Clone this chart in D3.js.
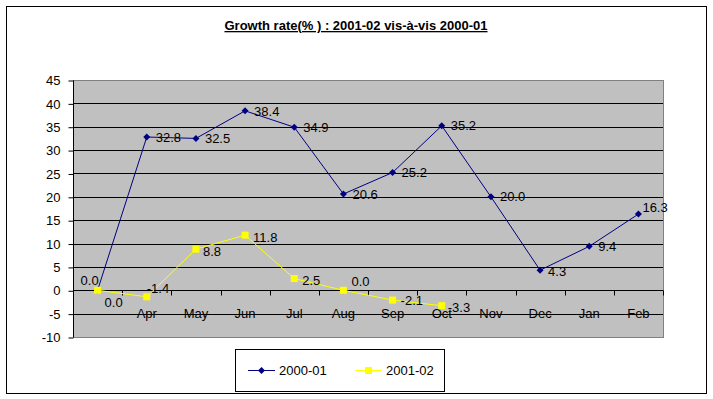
<!DOCTYPE html>
<html>
<head>
<meta charset="utf-8">
<script src="https://cdn.jsdelivr.net/npm/d3@7"></script>
<style>
  body { margin: 0; background: #fff; }
  text { font-family: Arial, "Liberation Sans", sans-serif; }
</style>
</head>
<body>
<svg id="chart" width="713" height="399"></svg>
<script>
// Data
const months = ["", "Apr", "May", "Jun", "Jul", "Aug", "Sep", "Oct", "Nov", "Dec", "Jan", "Feb"];
const growth0001 = [0.0, 32.8, 32.5, 38.4, 34.9, 20.6, 25.2, 35.2, 20.0, 4.3, 9.4, 16.3];
const growth0102 = [0.0, -1.4, 8.8, 11.8, 2.5, 0.0, -2.1, -3.3];
const yTicks = [-10, -5, 0, 5, 10, 15, 20, 25, 30, 35, 40, 45];
const seriesNames = ["2000-01", "2001-02"];

// where each data label sits relative to its point [dx, dy]
const nudge0001 = [[-17, -10], [9, 0], [9, 0], [9, 0], [9, 0], [9, 0], [9, 0], [9, 0], [9, 0], [8, 1], [9, 0], [4, -7]];
const nudge0102 = [[7, 12], [0, -8], [7, 2], [8, 2], [8, 2], [8, -9], [8, 0], [6, 2]];

const svg = d3.select("#chart");
const plot = { left: 73, top: 80, right: 663, bottom: 337 };
const navy = "#000080", yellow = "#FFFF00";

// outer chart border
svg.append("rect")
    .attr("x", 6.5).attr("y", 6.5)
    .attr("width", 700).attr("height", 387)
    .attr("fill", "#fff").attr("stroke", "#000");

// title
svg.append("text")
    .attr("x", 356).attr("y", 30)
    .attr("text-anchor", "middle")
    .style("font-size", "13px")
    .style("font-weight", "bold")
    .style("text-decoration", "underline")
    .text("Growth rate(% ) : 2001-02 vis-à-vis 2000-01");

const x = d3.scalePoint()
    .domain(months)
    .range([plot.left, plot.right])
    .padding(0.5);
const step = x.step();

const y = d3.scaleLinear()
    .domain([-10, 45])
    .range([plot.bottom, plot.top]);

// plot area
svg.append("rect")
    .attr("x", plot.left + 0.5).attr("y", plot.top + 0.5)
    .attr("width", plot.right - plot.left).attr("height", plot.bottom - plot.top)
    .attr("fill", "#C0C0C0").attr("stroke", "#808080");

// gridlines
svg.append("g")
    .selectAll("line")
    .data(yTicks.filter(t => t > -10 && t < 45))
    .join("line")
    .attr("x1", plot.left).attr("x2", plot.right)
    .attr("y1", d => Math.round(y(d)) + 0.5)
    .attr("y2", d => Math.round(y(d)) + 0.5)
    .attr("stroke", "#000");

// y axis
const yAxis = svg.append("g")
    .attr("transform", `translate(${plot.left + 0.5},0.5)`)
    .call(d3.axisLeft(y).tickValues(yTicks).tickSize(5).tickPadding(8).tickFormat(d => String(d)));
yAxis.select(".domain").attr("d", `M0,${y(45)}V${y(-10)}`).attr("stroke", "#000");
yAxis.selectAll(".tick line").attr("stroke", "#000");
yAxis.selectAll(".tick text")
    .style("font-size", "13px")
    .attr("fill", "#000")
    .attr("font-family", null);

// category axis along zero
const zeroY = Math.round(y(0)) + 0.5;
svg.append("line")
    .attr("x1", plot.left).attr("x2", plot.right)
    .attr("y1", zeroY).attr("y2", zeroY)
    .attr("stroke", "#000");

svg.append("g")
    .selectAll("line")
    .data(d3.range(months.length + 1))
    .join("line")
    .attr("x1", i => Math.round(plot.left + i * step) + 0.5)
    .attr("x2", i => Math.round(plot.left + i * step) + 0.5)
    .attr("y1", zeroY).attr("y2", zeroY + 5)
    .attr("stroke", "#000");

svg.append("g")
    .selectAll("text")
    .data(months)
    .join("text")
    .attr("x", d => x(d))
    .attr("y", 318)
    .attr("text-anchor", "middle")
    .style("font-size", "13px")
    .text(d => d);

// lines
const line = d3.line()
    .x((d, i) => x(months[i]))
    .y(d => y(d));

svg.append("path")
    .datum(growth0102)
    .attr("d", line)
    .attr("fill", "none")
    .attr("stroke", yellow)
    .attr("stroke-width", 1);

svg.append("path")
    .datum(growth0001)
    .attr("d", line)
    .attr("fill", "none")
    .attr("stroke", navy)
    .attr("stroke-width", 1);

const diamond = "M0,-3.5L3.5,0L0,3.5L-3.5,0Z";

svg.append("g")
    .selectAll("path")
    .data(growth0001)
    .join("path")
    .attr("d", diamond)
    .attr("transform", (d, i) => `translate(${x(months[i])},${y(d)})`)
    .attr("fill", navy);

svg.append("g")
    .selectAll("rect")
    .data(growth0102)
    .join("rect")
    .attr("x", (d, i) => x(months[i]) - 3.5)
    .attr("y", d => y(d) - 3.5)
    .attr("width", 7).attr("height", 7)
    .attr("fill", yellow);

// data labels (plain hyphen for negatives, like the original)
function addLabels(values, nudges) {
    svg.append("g")
        .selectAll("text")
        .data(values)
        .join("text")
        .attr("x", (d, i) => x(months[i]) + nudges[i][0])
        .attr("y", (d, i) => y(d) + nudges[i][1])
        .attr("dy", "0.36em")
        .style("font-size", "13px")
        .text(d => d.toFixed(1));
}
addLabels(growth0001, nudge0001);
addLabels(growth0102, nudge0102);

// legend
const legend = svg.append("g");
legend.append("rect")
    .attr("x", 235.5).attr("y", 349.5)
    .attr("width", 209).attr("height", 42)
    .attr("fill", "#fff").attr("stroke", "#000");

const legendItems = [
    { label: seriesNames[0], color: navy, x: 248, marker: "diamond" },
    { label: seriesNames[1], color: yellow, x: 355, marker: "square" }
];

legendItems.forEach(d => {
    const g = legend.append("g").attr("transform", `translate(${d.x},370.5)`);
    g.append("line").attr("x1", 0).attr("x2", 27).attr("stroke", d.color);
    if (d.marker === "diamond") {
        g.append("path").attr("d", diamond).attr("transform", "translate(13.5,0)").attr("fill", d.color);
    } else {
        g.append("rect").attr("x", 10).attr("y", -3.5).attr("width", 7).attr("height", 7).attr("fill", d.color);
    }
    g.append("text")
        .attr("x", 31).attr("dy", "0.36em")
        .style("font-size", "13px")
        .text(d.label);
});
</script>
</body>
</html>
